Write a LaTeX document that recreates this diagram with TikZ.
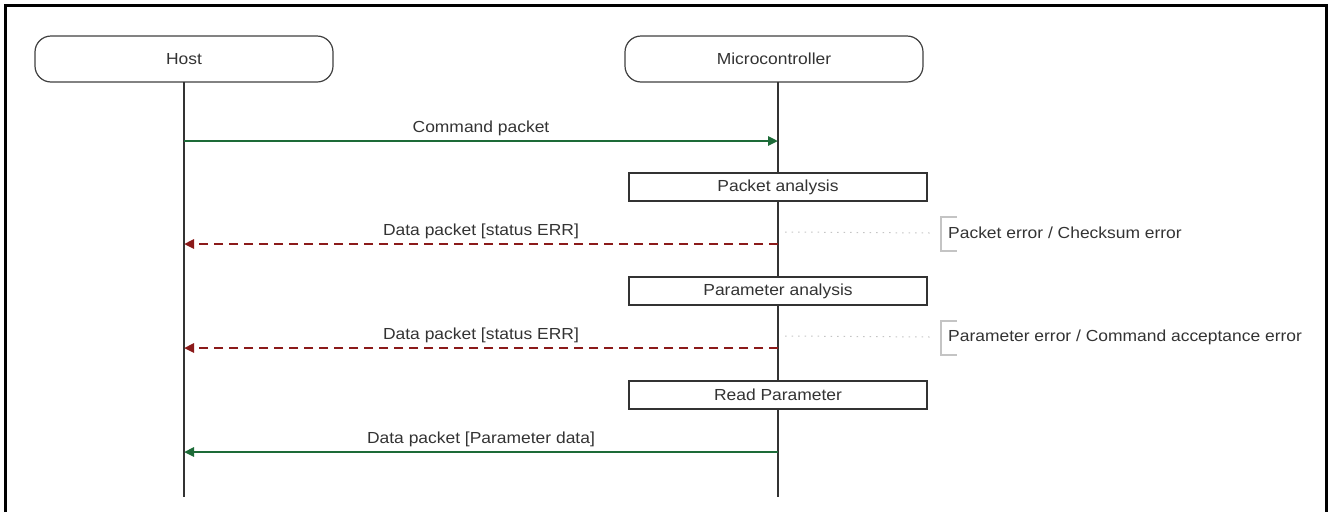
\documentclass[tikz,border=0pt]{standalone}
\usepackage{fontspec}
\setmainfont[FakeStretch=1.09]{Liberation Sans}
\usetikzlibrary{arrows.meta, positioning}
\definecolor{okgreen}{HTML}{1D6B38}
\definecolor{errred}{HTML}{8B1A1A}
\definecolor{txtgray}{HTML}{333333}
\definecolor{notegray}{HTML}{C4C4C4}

\begin{document}
\begin{tikzpicture}[
  x=1pt, y=-1pt,
  >={Triangle[length=10pt, width=9pt]},
  every node/.style={font=\fontsize{16}{19}\selectfont, text=txtgray},
  actor/.style={draw=black!75, line width=1.2pt, rounded corners=16pt, minimum width=298pt, minimum height=46pt, fill=white},
  process/.style={draw=black!80, line width=1.2pt, minimum width=298pt, minimum height=28pt, inner sep=0pt, fill=white},
  lifeline/.style={draw=black!80, line width=1.1pt},
  okmsg/.style={okgreen, line width=2.8pt, ->},
  errmsg/.style={errred, line width=2.8pt, ->, dash pattern=on 9pt off 6pt},
  msglabel/.style={midway, above=2pt, inner sep=2pt},
]

% Frame
\useasboundingbox (0,0) rectangle (1328,512);
\draw[line width=3pt] (5,512) -- (5,5) -- (1326,5) -- (1326,512);

% Participants
\node[actor] (host) at (184,59) {Host};
\node[actor] (mcu) at (774,59) {Microcontroller};

% Lifelines
\coordinate (hostTop) at (184,82);
\coordinate (mcuTop) at (778,82);
\coordinate (hostEnd) at (184,497);
\coordinate (mcuEnd) at (778,497);
\draw[lifeline] (hostTop) -- (hostEnd);
\draw[lifeline] (mcuTop) -- (mcuEnd);

% Points on the lifelines
\coordinate (h1) at (184,141);
\coordinate (m1) at (778,141);
\coordinate (h2) at (184,244);
\coordinate (m2) at (778,244);
\coordinate (h3) at (184,348);
\coordinate (m3) at (778,348);
\coordinate (h4) at (184,452);
\coordinate (m4) at (778,452);

% Command packet
\draw[okmsg] (h1) -- (m1) node[msglabel] {Command packet};

% Packet analysis
\node[process] (pkt) at (778,187) {Packet analysis};
\draw[errmsg] (m2) -- (h2) node[msglabel] {Data packet [status ERR]};

% Note 1
\coordinate (n1) at (785,232);
\node[anchor=west, inner sep=0pt] (note1) at (948,233) {Packet error / Checksum error};
\draw[notegray, line width=1pt, dash pattern=on 1.5pt off 5pt] (n1) -- (note1.west -| 930,0);
\draw[notegray, line width=1.2pt] (957,217) -- (941,217) -- (941,251) -- (957,251);

% Parameter analysis
\node[process] (par) at (778,291) {Parameter analysis};
\draw[errmsg] (m3) -- (h3) node[msglabel] {Data packet [status ERR]};

% Note 2
\coordinate (n2) at (785,336);
\node[anchor=west, inner sep=0pt] (note2) at (948,337) {Parameter error / Command acceptance error};
\draw[notegray, line width=1pt, dash pattern=on 1.5pt off 5pt] (n2) -- (note2.west -| 930,0);
\draw[notegray, line width=1.2pt] (957,321) -- (941,321) -- (941,355) -- (957,355);

% Read Parameter
\node[process] (rd) at (778,395) {Read Parameter};
\draw[okmsg] (m4) -- (h4) node[msglabel] {Data packet [Parameter data]};

\end{tikzpicture}
\end{document}
